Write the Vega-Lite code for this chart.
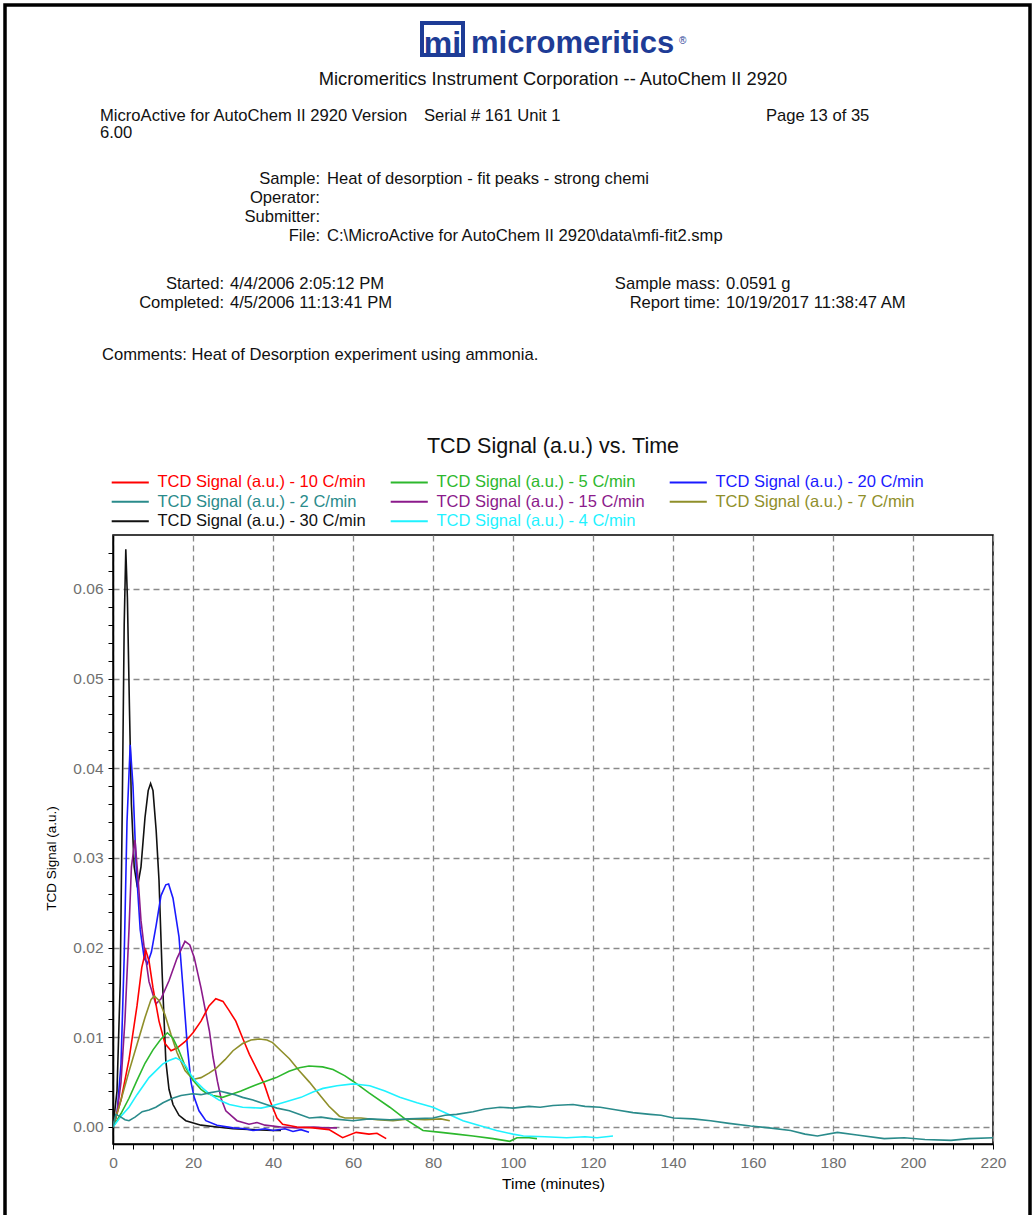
{
 "$schema": "https://vega.github.io/schema/vega-lite/v6.json",
 "width": 880,
 "height": 609,
 "autosize": {"type": "none"},
 "padding": {"left": 113, "top": 535, "right": 43, "bottom": 71},
 "background": "white",
 "config": {"font": "Liberation Sans", "view": {"stroke": "#000", "strokeWidth": 1.5}},
 "datasets": {
  "curves": [
   {"s":"30 C/min","t":0,"v":0},{"s":"30 C/min","t":1,"v":0.004},{"s":"30 C/min","t":1.8,"v":0.016},{"s":"30 C/min","t":2.3,"v":0.035},{"s":"30 C/min","t":2.8,"v":0.056},{"s":"30 C/min","t":3.2,"v":0.0644},{"s":"30 C/min","t":3.6,"v":0.059},{"s":"30 C/min","t":4.1,"v":0.047},{"s":"30 C/min","t":4.6,"v":0.036},{"s":"30 C/min","t":5.3,"v":0.029},{"s":"30 C/min","t":6.1,"v":0.0267},{"s":"30 C/min","t":7,"v":0.029},{"s":"30 C/min","t":8,"v":0.0345},{"s":"30 C/min","t":8.8,"v":0.0375},{"s":"30 C/min","t":9.4,"v":0.0383},{"s":"30 C/min","t":10,"v":0.0375},{"s":"30 C/min","t":10.8,"v":0.033},{"s":"30 C/min","t":11.5,"v":0.0275},{"s":"30 C/min","t":12.3,"v":0.017},{"s":"30 C/min","t":13.2,"v":0.0074},{"s":"30 C/min","t":14,"v":0.0042},{"s":"30 C/min","t":15,"v":0.0025},{"s":"30 C/min","t":16.5,"v":0.0013},{"s":"30 C/min","t":18.2,"v":0.0007},{"s":"30 C/min","t":22,"v":0.0002},{"s":"30 C/min","t":26,"v":0},{"s":"30 C/min","t":30,"v":-0.0002},{"s":"30 C/min","t":35,"v":-0.0003},{"s":"30 C/min","t":40,"v":-0.0004},{"s":"30 C/min","t":42,"v":-0.0004},

   {"s":"20 C/min","t":0,"v":0},{"s":"20 C/min","t":1,"v":0.0015},{"s":"20 C/min","t":2,"v":0.007},{"s":"20 C/min","t":2.8,"v":0.019},{"s":"20 C/min","t":3.5,"v":0.034},{"s":"20 C/min","t":4.3,"v":0.0426},{"s":"20 C/min","t":5,"v":0.038},{"s":"20 C/min","t":5.8,"v":0.029},{"s":"20 C/min","t":6.8,"v":0.022},{"s":"20 C/min","t":7.8,"v":0.0188},{"s":"20 C/min","t":8.6,"v":0.0182},{"s":"20 C/min","t":9.6,"v":0.0195},{"s":"20 C/min","t":10.8,"v":0.0225},{"s":"20 C/min","t":12,"v":0.0258},{"s":"20 C/min","t":13.2,"v":0.027},{"s":"20 C/min","t":13.9,"v":0.0271},{"s":"20 C/min","t":15,"v":0.0255},{"s":"20 C/min","t":16.5,"v":0.0212},{"s":"20 C/min","t":17.5,"v":0.0155},{"s":"20 C/min","t":18.6,"v":0.0089},{"s":"20 C/min","t":19.5,"v":0.005},{"s":"20 C/min","t":20.3,"v":0.0033},{"s":"20 C/min","t":21.5,"v":0.0018},{"s":"20 C/min","t":23.2,"v":0.0007},{"s":"20 C/min","t":26,"v":0.0002},{"s":"20 C/min","t":30,"v":-0.0001},{"s":"20 C/min","t":33,"v":-0.0002},{"s":"20 C/min","t":35,"v":-0.0004},{"s":"20 C/min","t":38,"v":-0.0002},{"s":"20 C/min","t":40,"v":-0.0004},{"s":"20 C/min","t":43,"v":-0.0002},{"s":"20 C/min","t":45,"v":-0.0005},{"s":"20 C/min","t":47,"v":-0.0003},{"s":"20 C/min","t":49,"v":-0.0006},

   {"s":"15 C/min","t":0,"v":0},{"s":"15 C/min","t":1,"v":0.0015},{"s":"15 C/min","t":2,"v":0.005},{"s":"15 C/min","t":3,"v":0.012},{"s":"15 C/min","t":4,"v":0.022},{"s":"15 C/min","t":4.6,"v":0.029},{"s":"15 C/min","t":5.5,"v":0.032},{"s":"15 C/min","t":6.3,"v":0.0275},{"s":"15 C/min","t":7,"v":0.023},{"s":"15 C/min","t":7.8,"v":0.02},{"s":"15 C/min","t":9,"v":0.0162},{"s":"15 C/min","t":10.7,"v":0.0137},{"s":"15 C/min","t":12,"v":0.0143},{"s":"15 C/min","t":14,"v":0.0163},{"s":"15 C/min","t":16,"v":0.0188},{"s":"15 C/min","t":18,"v":0.0207},{"s":"15 C/min","t":19.2,"v":0.0203},{"s":"15 C/min","t":20.3,"v":0.0189},{"s":"15 C/min","t":22,"v":0.0155},{"s":"15 C/min","t":24.1,"v":0.0107},{"s":"15 C/min","t":25,"v":0.0078},{"s":"15 C/min","t":26.1,"v":0.0051},{"s":"15 C/min","t":27,"v":0.0032},{"s":"15 C/min","t":28.2,"v":0.0018},{"s":"15 C/min","t":31,"v":0.0007},{"s":"15 C/min","t":34,"v":0.0003},{"s":"15 C/min","t":36,"v":0.0005},{"s":"15 C/min","t":38,"v":0.0002},{"s":"15 C/min","t":42,"v":0},{"s":"15 C/min","t":46,"v":-0.0001},{"s":"15 C/min","t":50,"v":0},{"s":"15 C/min","t":53,"v":-0.0001},{"s":"15 C/min","t":56,"v":-0.0001},

   {"s":"10 C/min","t":0,"v":0},{"s":"10 C/min","t":2,"v":0.003},{"s":"10 C/min","t":4,"v":0.0075},{"s":"10 C/min","t":6,"v":0.0135},{"s":"10 C/min","t":7.2,"v":0.0178},{"s":"10 C/min","t":8.2,"v":0.0197},{"s":"10 C/min","t":9,"v":0.0185},{"s":"10 C/min","t":10,"v":0.0155},{"s":"10 C/min","t":11.5,"v":0.0118},{"s":"10 C/min","t":13,"v":0.0093},{"s":"10 C/min","t":14.5,"v":0.0085},{"s":"10 C/min","t":16,"v":0.0088},{"s":"10 C/min","t":18,"v":0.0095},{"s":"10 C/min","t":20,"v":0.0105},{"s":"10 C/min","t":22,"v":0.0118},{"s":"10 C/min","t":24,"v":0.0135},{"s":"10 C/min","t":25.7,"v":0.0143},{"s":"10 C/min","t":27.5,"v":0.014},{"s":"10 C/min","t":29,"v":0.013},{"s":"10 C/min","t":30.7,"v":0.0118},{"s":"10 C/min","t":32.5,"v":0.0098},{"s":"10 C/min","t":34.1,"v":0.0081},{"s":"10 C/min","t":36,"v":0.0064},{"s":"10 C/min","t":37.8,"v":0.0048},{"s":"10 C/min","t":39,"v":0.0032},{"s":"10 C/min","t":39.9,"v":0.0022},{"s":"10 C/min","t":41,"v":0.001},{"s":"10 C/min","t":42.4,"v":0.0003},{"s":"10 C/min","t":46,"v":0},{"s":"10 C/min","t":50,"v":-0.0001},{"s":"10 C/min","t":54,"v":-0.0003},{"s":"10 C/min","t":57.4,"v":-0.0012},{"s":"10 C/min","t":60.8,"v":-0.0006},{"s":"10 C/min","t":64,"v":-0.0008},{"s":"10 C/min","t":66,"v":-0.0007},{"s":"10 C/min","t":68.3,"v":-0.0013},

   {"s":"7 C/min","t":0,"v":0},{"s":"7 C/min","t":2,"v":0.003},{"s":"7 C/min","t":4,"v":0.0062},{"s":"7 C/min","t":6,"v":0.0092},{"s":"7 C/min","t":8,"v":0.0122},{"s":"7 C/min","t":9.5,"v":0.0142},{"s":"7 C/min","t":10.3,"v":0.0146},{"s":"7 C/min","t":11.5,"v":0.0141},{"s":"7 C/min","t":13,"v":0.0125},{"s":"7 C/min","t":14.5,"v":0.0103},{"s":"7 C/min","t":16,"v":0.0083},{"s":"7 C/min","t":18,"v":0.0063},{"s":"7 C/min","t":20,"v":0.0053},{"s":"7 C/min","t":22,"v":0.0055},{"s":"7 C/min","t":24,"v":0.006},{"s":"7 C/min","t":25.7,"v":0.0065},{"s":"7 C/min","t":28,"v":0.0075},{"s":"7 C/min","t":30,"v":0.0085},{"s":"7 C/min","t":32.4,"v":0.0093},{"s":"7 C/min","t":34.5,"v":0.0097},{"s":"7 C/min","t":36.6,"v":0.0098},{"s":"7 C/min","t":38.5,"v":0.0097},{"s":"7 C/min","t":39.9,"v":0.0094},{"s":"7 C/min","t":42,"v":0.0085},{"s":"7 C/min","t":44.1,"v":0.0076},{"s":"7 C/min","t":46.5,"v":0.0063},{"s":"7 C/min","t":49.1,"v":0.005},{"s":"7 C/min","t":52,"v":0.0034},{"s":"7 C/min","t":54,"v":0.0023},{"s":"7 C/min","t":56.6,"v":0.0012},{"s":"7 C/min","t":58,"v":0.001},{"s":"7 C/min","t":62,"v":0.001},{"s":"7 C/min","t":66,"v":0.0008},{"s":"7 C/min","t":70,"v":0.0007},{"s":"7 C/min","t":74,"v":0.0009},{"s":"7 C/min","t":78,"v":0.0008},{"s":"7 C/min","t":82,"v":0.0009},{"s":"7 C/min","t":84.2,"v":0.0007},

   {"s":"5 C/min","t":0,"v":0},{"s":"5 C/min","t":2,"v":0.0015},{"s":"5 C/min","t":4,"v":0.0032},{"s":"5 C/min","t":6,"v":0.0052},{"s":"5 C/min","t":8,"v":0.0071},{"s":"5 C/min","t":10,"v":0.0086},{"s":"5 C/min","t":12,"v":0.0098},{"s":"5 C/min","t":13.6,"v":0.0105},{"s":"5 C/min","t":15,"v":0.0099},{"s":"5 C/min","t":16.5,"v":0.0085},{"s":"5 C/min","t":18.2,"v":0.0066},{"s":"5 C/min","t":20,"v":0.0052},{"s":"5 C/min","t":22,"v":0.0042},{"s":"5 C/min","t":23.2,"v":0.0038},{"s":"5 C/min","t":25,"v":0.0035},{"s":"5 C/min","t":27.4,"v":0.0033},{"s":"5 C/min","t":30,"v":0.0037},{"s":"5 C/min","t":32,"v":0.004},{"s":"5 C/min","t":34.1,"v":0.0044},{"s":"5 C/min","t":37,"v":0.0049},{"s":"5 C/min","t":40.8,"v":0.0055},{"s":"5 C/min","t":44,"v":0.0062},{"s":"5 C/min","t":46.6,"v":0.0066},{"s":"5 C/min","t":49,"v":0.0068},{"s":"5 C/min","t":52.4,"v":0.0067},{"s":"5 C/min","t":55,"v":0.0064},{"s":"5 C/min","t":58,"v":0.0057},{"s":"5 C/min","t":60,"v":0.0051},{"s":"5 C/min","t":64,"v":0.0038},{"s":"5 C/min","t":69.2,"v":0.0022},{"s":"5 C/min","t":73,"v":0.0009},{"s":"5 C/min","t":77.5,"v":-0.0004},{"s":"5 C/min","t":82,"v":-0.0006},{"s":"5 C/min","t":85.9,"v":-0.0008},{"s":"5 C/min","t":90,"v":-0.001},{"s":"5 C/min","t":95,"v":-0.0013},{"s":"5 C/min","t":99.2,"v":-0.0016},{"s":"5 C/min","t":101,"v":-0.0012},{"s":"5 C/min","t":104,"v":-0.0012},{"s":"5 C/min","t":106,"v":-0.0013},

   {"s":"4 C/min","t":0,"v":0},{"s":"4 C/min","t":2,"v":0.0012},{"s":"4 C/min","t":4,"v":0.0022},{"s":"4 C/min","t":6,"v":0.0036},{"s":"4 C/min","t":9,"v":0.0055},{"s":"4 C/min","t":12.4,"v":0.007},{"s":"4 C/min","t":14,"v":0.0074},{"s":"4 C/min","t":15.7,"v":0.0077},{"s":"4 C/min","t":17,"v":0.0074},{"s":"4 C/min","t":18.2,"v":0.0068},{"s":"4 C/min","t":19.5,"v":0.0058},{"s":"4 C/min","t":20.7,"v":0.0051},{"s":"4 C/min","t":22.5,"v":0.0043},{"s":"4 C/min","t":24.1,"v":0.0037},{"s":"4 C/min","t":26.5,"v":0.003},{"s":"4 C/min","t":29.1,"v":0.0025},{"s":"4 C/min","t":32.4,"v":0.0022},{"s":"4 C/min","t":37,"v":0.0021},{"s":"4 C/min","t":40,"v":0.0024},{"s":"4 C/min","t":42.4,"v":0.0027},{"s":"4 C/min","t":47,"v":0.0033},{"s":"4 C/min","t":50,"v":0.0039},{"s":"4 C/min","t":52.5,"v":0.0043},{"s":"4 C/min","t":56,"v":0.0046},{"s":"4 C/min","t":60,"v":0.0048},{"s":"4 C/min","t":62,"v":0.0047},{"s":"4 C/min","t":64.2,"v":0.0046},{"s":"4 C/min","t":68,"v":0.004},{"s":"4 C/min","t":71.7,"v":0.0033},{"s":"4 C/min","t":76,"v":0.0027},{"s":"4 C/min","t":80,"v":0.0022},{"s":"4 C/min","t":84,"v":0.0014},{"s":"4 C/min","t":87.5,"v":0.0007},{"s":"4 C/min","t":92,"v":0.0001},{"s":"4 C/min","t":95.9,"v":-0.0004},{"s":"4 C/min","t":100,"v":-0.0008},{"s":"4 C/min","t":102.6,"v":-0.001},{"s":"4 C/min","t":108,"v":-0.0011},{"s":"4 C/min","t":113.4,"v":-0.0012},{"s":"4 C/min","t":118,"v":-0.0011},{"s":"4 C/min","t":121,"v":-0.0012},{"s":"4 C/min","t":125,"v":-0.001},

   {"s":"2 C/min","t":0,"v":0},{"s":"2 C/min","t":0.7,"v":0.0014},{"s":"2 C/min","t":2,"v":0.0011},{"s":"2 C/min","t":3,"v":0.0008},{"s":"2 C/min","t":4,"v":0.0007},{"s":"2 C/min","t":5.5,"v":0.0011},{"s":"2 C/min","t":7.3,"v":0.0017},{"s":"2 C/min","t":9,"v":0.0019},{"s":"2 C/min","t":10.7,"v":0.0022},{"s":"2 C/min","t":12.5,"v":0.0027},{"s":"2 C/min","t":14.9,"v":0.0032},{"s":"2 C/min","t":17,"v":0.0035},{"s":"2 C/min","t":19.9,"v":0.0037},{"s":"2 C/min","t":22,"v":0.0036},{"s":"2 C/min","t":24.1,"v":0.0038},{"s":"2 C/min","t":26.6,"v":0.004},{"s":"2 C/min","t":28.5,"v":0.0038},{"s":"2 C/min","t":30.5,"v":0.0036},{"s":"2 C/min","t":32.4,"v":0.0033},{"s":"2 C/min","t":35,"v":0.003},{"s":"2 C/min","t":38.3,"v":0.0025},{"s":"2 C/min","t":41,"v":0.0021},{"s":"2 C/min","t":44.1,"v":0.0018},{"s":"2 C/min","t":46,"v":0.0015},{"s":"2 C/min","t":49.1,"v":0.001},{"s":"2 C/min","t":52,"v":0.0011},{"s":"2 C/min","t":55,"v":0.0009},{"s":"2 C/min","t":60,"v":0.0007},{"s":"2 C/min","t":64,"v":0.0009},{"s":"2 C/min","t":69.2,"v":0.0008},{"s":"2 C/min","t":74,"v":0.0009},{"s":"2 C/min","t":80,"v":0.001},{"s":"2 C/min","t":83,"v":0.0013},{"s":"2 C/min","t":85.9,"v":0.0014},{"s":"2 C/min","t":90,"v":0.0017},{"s":"2 C/min","t":93,"v":0.002},{"s":"2 C/min","t":96.7,"v":0.0022},{"s":"2 C/min","t":100,"v":0.0021},{"s":"2 C/min","t":104,"v":0.0023},{"s":"2 C/min","t":106.8,"v":0.0022},{"s":"2 C/min","t":110,"v":0.0024},{"s":"2 C/min","t":115,"v":0.0025},{"s":"2 C/min","t":118,"v":0.0023},{"s":"2 C/min","t":121.8,"v":0.0022},{"s":"2 C/min","t":126,"v":0.0019},{"s":"2 C/min","t":130,"v":0.0016},{"s":"2 C/min","t":134.3,"v":0.0014},{"s":"2 C/min","t":137,"v":0.0013},{"s":"2 C/min","t":140.2,"v":0.001},{"s":"2 C/min","t":145,"v":0.0009},{"s":"2 C/min","t":149.4,"v":0.0007},{"s":"2 C/min","t":154,"v":0.0004},{"s":"2 C/min","t":159.4,"v":0.0001},{"s":"2 C/min","t":164,"v":-0.0001},{"s":"2 C/min","t":169.4,"v":-0.0004},{"s":"2 C/min","t":173,"v":-0.0008},{"s":"2 C/min","t":176.1,"v":-0.001},{"s":"2 C/min","t":181.1,"v":-0.0006},{"s":"2 C/min","t":186,"v":-0.0009},{"s":"2 C/min","t":192.8,"v":-0.0013},{"s":"2 C/min","t":197.8,"v":-0.0012},{"s":"2 C/min","t":203,"v":-0.0014},{"s":"2 C/min","t":209.5,"v":-0.0015},{"s":"2 C/min","t":214,"v":-0.0013},{"s":"2 C/min","t":220,"v":-0.0012}
  ]
 },
 "layer": [
  {"data": {"values": [{}]}, "mark": {"type": "rect", "x": -108, "y": -530, "x2": 917, "y2": 700, "fillOpacity": 0, "stroke": "#000", "strokeWidth": 3.5}},
  {"data": {"values": [{}]}, "mark": {"type": "rect", "x": 309, "y": -512, "x2": 350, "y2": -480, "fillOpacity": 0, "stroke": "#1e3c96", "strokeWidth": 4}},
  {"data": {"values": [{"txt": "mi"}]}, "mark": {"type": "text", "x": 329.5, "y": -481, "align": "center", "baseline": "alphabetic", "fontSize": 32, "fontWeight": "bold", "fill": "#1e3c96"}, "encoding": {"text": {"field": "txt"}}},
  {"data": {"values": [{"txt": "micromeritics"}]}, "mark": {"type": "text", "x": 358, "y": -482, "align": "left", "baseline": "alphabetic", "fontSize": 31, "fontWeight": "bold", "fill": "#1e3c96"}, "encoding": {"text": {"field": "txt"}}},
  {"data": {"values": [{"txt": "®"}]}, "mark": {"type": "text", "x": 566, "y": -491, "align": "left", "baseline": "alphabetic", "fontSize": 10, "fill": "#1e3c96"}, "encoding": {"text": {"field": "txt"}}},
  {"data": {"values": [{"txt": "Micromeritics Instrument Corporation -- AutoChem II 2920"}]}, "mark": {"type": "text", "x": 440, "y": -450, "align": "center", "baseline": "alphabetic", "fontSize": 18.3, "fill": "#111"}, "encoding": {"text": {"field": "txt"}}},
  {"data": {"values": [{"txt": ["MicroActive for AutoChem II 2920 Version", "6.00"]}]}, "mark": {"type": "text", "x": -13, "y": -414, "align": "left", "baseline": "alphabetic", "fontSize": 16.6, "lineHeight": 17, "fill": "#111"}, "encoding": {"text": {"field": "txt"}}},
  {"data": {"values": [{"txt": "Serial # 161  Unit 1"}]}, "mark": {"type": "text", "x": 311, "y": -414, "align": "left", "baseline": "alphabetic", "fontSize": 16.6, "fill": "#111"}, "encoding": {"text": {"field": "txt"}}},
  {"data": {"values": [{"txt": "Page 13 of 35"}]}, "mark": {"type": "text", "x": 653, "y": -414, "align": "left", "baseline": "alphabetic", "fontSize": 16.6, "fill": "#111"}, "encoding": {"text": {"field": "txt"}}},
  {"data": {"values": [{"txt": ["Sample:", "Operator:", "Submitter:", "File:"]}]}, "mark": {"type": "text", "x": 207, "y": -351, "align": "right", "baseline": "alphabetic", "fontSize": 16.6, "lineHeight": 19, "fill": "#111"}, "encoding": {"text": {"field": "txt"}}},
  {"data": {"values": [{"txt": "Heat of desorption - fit peaks - strong chemi"}]}, "mark": {"type": "text", "x": 214, "y": -351, "align": "left", "baseline": "alphabetic", "fontSize": 16.6, "fill": "#111"}, "encoding": {"text": {"field": "txt"}}},
  {"data": {"values": [{"txt": "C:\\MicroActive for AutoChem II 2920\\data\\mfi-fit2.smp"}]}, "mark": {"type": "text", "x": 214, "y": -294, "align": "left", "baseline": "alphabetic", "fontSize": 16.6, "fill": "#111"}, "encoding": {"text": {"field": "txt"}}},
  {"data": {"values": [{"txt": ["Started:", "Completed:"]}]}, "mark": {"type": "text", "x": 111, "y": -246, "align": "right", "baseline": "alphabetic", "fontSize": 16.6, "lineHeight": 19, "fill": "#111"}, "encoding": {"text": {"field": "txt"}}},
  {"data": {"values": [{"txt": ["4/4/2006 2:05:12 PM", "4/5/2006 11:13:41 PM"]}]}, "mark": {"type": "text", "x": 117, "y": -246, "align": "left", "baseline": "alphabetic", "fontSize": 16.6, "lineHeight": 19, "fill": "#111"}, "encoding": {"text": {"field": "txt"}}},
  {"data": {"values": [{"txt": ["Sample mass:", "Report time:"]}]}, "mark": {"type": "text", "x": 607, "y": -246, "align": "right", "baseline": "alphabetic", "fontSize": 16.6, "lineHeight": 19, "fill": "#111"}, "encoding": {"text": {"field": "txt"}}},
  {"data": {"values": [{"txt": ["0.0591 g", "10/19/2017 11:38:47 AM"]}]}, "mark": {"type": "text", "x": 613, "y": -246, "align": "left", "baseline": "alphabetic", "fontSize": 16.6, "lineHeight": 19, "fill": "#111"}, "encoding": {"text": {"field": "txt"}}},
  {"data": {"values": [{"txt": "Comments: Heat of Desorption experiment using ammonia."}]}, "mark": {"type": "text", "x": -11, "y": -175, "align": "left", "baseline": "alphabetic", "fontSize": 16.6, "fill": "#111"}, "encoding": {"text": {"field": "txt"}}},
  {"data": {"values": [{"txt": "TCD Signal (a.u.) vs. Time"}]}, "mark": {"type": "text", "x": 440, "y": -88, "align": "center", "baseline": "middle", "fontSize": 21.5, "fill": "#111"}, "encoding": {"text": {"field": "txt"}}},
  {
   "data": {"name": "curves"},
   "mark": {"type": "line", "strokeWidth": 1.6, "clip": true},
   "encoding": {
    "x": {"field": "t", "type": "quantitative",
      "scale": {"domain": [0, 220], "nice": false, "zero": false},
      "axis": {"title": "Time (minutes)", "values": [0,5,10,15,20,25,30,35,40,45,50,55,60,65,70,75,80,85,90,95,100,105,110,115,120,125,130,135,140,145,150,155,160,165,170,175,180,185,190,195,200,205,210,215,220],
        "labelExpr": "datum.value % 20 === 0 ? datum.label : ''", "format": "d", "labelOverlap": false, "labelFlush": false,
        "grid": true, "gridDash": [6, 4], "gridColor": "#8a8a8a", "gridWidth": 1.3,
        "gridOpacity": {"condition": {"test": "datum.value % 20 === 0", "value": 1}, "value": 0},
        "tickColor": "#000", "tickSize": 5, "tickWidth": 1, "domainColor": "#000", "domainWidth": 1.5,
        "labelColor": "#707070", "labelFontSize": 15.5, "labelPadding": 6,
        "titleColor": "#000", "titleFontSize": 15.5, "titleFontWeight": "normal", "titlePadding": 6}},
    "y": {"field": "v", "type": "quantitative",
      "scale": {"domain": [-0.0019, 0.066], "nice": false, "zero": false},
      "axis": {"title": "TCD Signal (a.u.)", "values": [0,0.002,0.004,0.006,0.008,0.01,0.012,0.014,0.016,0.018,0.02,0.022,0.024,0.026,0.028,0.03,0.032,0.034,0.036,0.038,0.04,0.042,0.044,0.046,0.048,0.05,0.052,0.054,0.056,0.058,0.06,0.062,0.064],
        "labelExpr": "abs(datum.value*100 - round(datum.value*100)) < 0.001 ? format(datum.value, '.2f') : ''", "labelOverlap": false, "labelFlush": false,
        "grid": true, "gridDash": [6, 4], "gridColor": "#8a8a8a", "gridWidth": 1.3,
        "gridOpacity": {"condition": {"test": "abs(datum.value*100 - round(datum.value*100)) < 0.001", "value": 1}, "value": 0},
        "tickColor": "#000", "tickSize": 5, "tickWidth": 1, "domainColor": "#000", "domainWidth": 1.5,
        "labelColor": "#707070", "labelFontSize": 15.5, "labelPadding": 5,
        "titleColor": "#000", "titleFontSize": 13.5, "titleFontWeight": "normal", "titleX": -55, "titleY": 323}},
    "color": {"field": "s", "type": "nominal",
      "scale": {"domain": ["10 C/min", "5 C/min", "20 C/min", "2 C/min", "15 C/min", "7 C/min", "30 C/min", "4 C/min"],
        "range": ["#ff0000", "#2db82d", "#1a1aff", "#2a8b8b", "#8b1a8b", "#8f8f2a", "#111111", "#1ff2ff"]},
      "legend": {"orient": "none", "legendX": 9, "legendY": -61, "direction": "horizontal", "columns": 3, "title": null,
        "symbolType": "M-4,0H4", "symbolSize": 86, "symbolStrokeWidth": 2, "labelFontSize": 16.5, "labelOffset": 19,
        "columnPadding": 20, "rowPadding": 2.5, "padding": 0, "labelLimit": 0,
        "labelExpr": "'TCD Signal (a.u.) - ' + datum.label",
        "encode": {"labels": {"update": {"fill": {"scale": "color", "field": "value"}}}}}}
   }
  }
 ]
}
